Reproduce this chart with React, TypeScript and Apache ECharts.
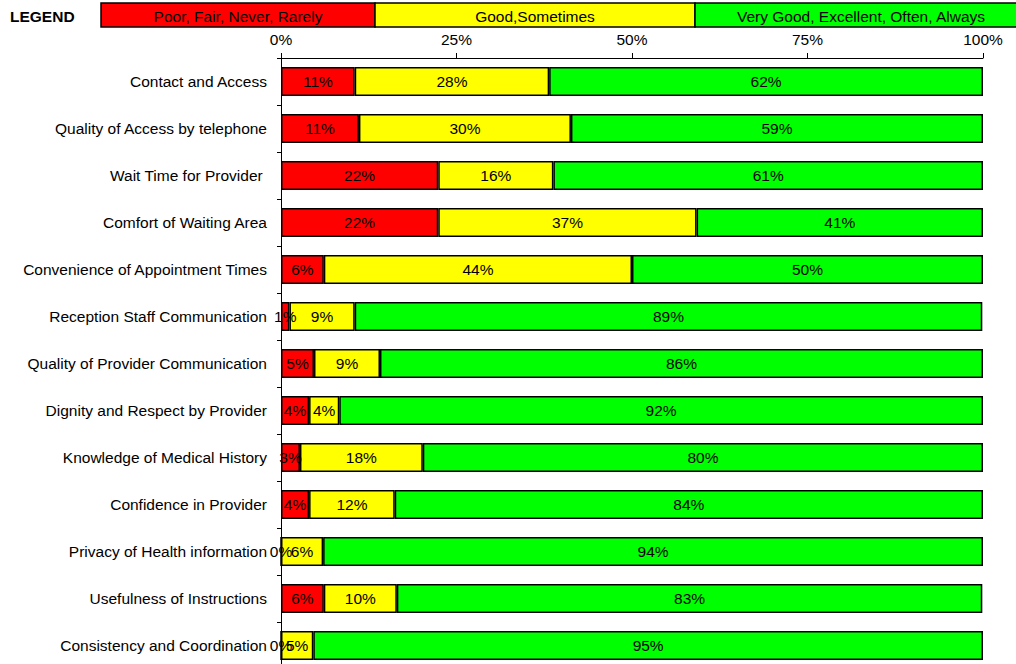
import React, { useEffect, useRef } from "react";
import * as echarts from "echarts";

const categories = [
  "Contact and Access",
  "Quality of Access by telephone",
  "Wait Time for Provider ",
  "Comfort of Waiting Area",
  "Convenience of Appointment Times",
  "Reception Staff Communication",
  "Quality of Provider Communication",
  "Dignity and Respect by Provider",
  "Knowledge of Medical History",
  "Confidence in Provider",
  "Privacy of Health information",
  "Usefulness of Instructions",
  "Consistency and Coordination",
];

const poorValues = [10.5, 11.1, 22.4, 22.4, 6.1, 1.2, 4.7, 4.0, 2.7, 4.0, 0, 6.1, 0];
const goodValues = [27.7, 30.2, 16.4, 36.8, 43.9, 9.3, 9.4, 4.3, 17.5, 12.2, 6.0, 10.4, 4.6];
const greatValues = [61.8, 58.7, 61.2, 40.8, 50.0, 89.4, 85.9, 91.7, 79.8, 83.8, 94.0, 83.4, 95.4];

const legendNames = [
  "Poor, Fair, Never, Rarely",
  "Good,Sometimes",
  "Very Good, Excellent, Often, Always",
];
const colors = ["#FF0000", "#FFFF00", "#00FF00"];
const xTicks = [0, 25, 50, 75, 100];

export default function App() {
  const ref = useRef<HTMLDivElement>(null);

  useEffect(() => {
    document.body.style.margin = "0";
    if (!ref.current) return;
    const chart = echarts.init(ref.current, undefined, { renderer: "svg" });
    const font = "'Liberation Sans', Arial, sans-serif";
    const fs = 15.5;
    const labelCfg = {
      show: true,
      position: "inside" as const,
      color: "#000",
      fontSize: fs,
      fontFamily: font,
      formatter: (p: any) => Math.round(p.value) + "%",
    };
    const seriesData = [poorValues, goodValues, greatValues];
    const legendX = [101, 375, 695, 1027];
    chart.setOption({
      animation: false,
      textStyle: { fontFamily: font },
      grid: { left: 281, right: 33, top: 58, height: 611, containLabel: false },
      xAxis: {
        type: "value",
        position: "top",
        min: xTicks[0],
        max: xTicks[xTicks.length - 1],
        interval: 25,
        axisLine: { show: true, lineStyle: { color: "#000", width: 1 } },
        axisTick: { show: true, length: 5, lineStyle: { color: "#000" } },
        splitLine: { show: false },
        axisLabel: {
          formatter: "{value}%",
          color: "#000",
          fontSize: fs,
          fontFamily: font,
          margin: 11,
        },
      },
      yAxis: {
        type: "category",
        data: categories,
        inverse: true,
        axisLine: { show: true, lineStyle: { color: "#000", width: 1 } },
        axisTick: { show: true, length: 4, lineStyle: { color: "#000" } },
        axisLabel: {
          color: "#000",
          fontSize: fs,
          fontFamily: font,
          margin: 14,
        },
      },
      series: seriesData.map((d, i) => ({
        name: legendNames[i],
        type: "bar",
        stack: "total",
        data: d,
        barWidth: 29,
        itemStyle: { color: colors[i], borderColor: "#000", borderWidth: 1.5 },
        label: labelCfg,
      })),
      graphic: [
        {
          type: "text",
          x: 10,
          y: 16,
          style: {
            text: "LEGEND",
            font: `bold ${fs}px ${font}`,
            fill: "#000",
            verticalAlign: "middle",
          },
        },
        ...legendNames.flatMap((name, i) => [
          {
            type: "rect",
            shape: {
              x: legendX[i],
              y: 3,
              width: legendX[i + 1] - legendX[i],
              height: 24,
            },
            style: { fill: colors[i], stroke: "#000", lineWidth: 1.5 },
          },
          {
            type: "text",
            x: (legendX[i] + legendX[i + 1]) / 2,
            y: 16,
            style: {
              text: name,
              font: `${fs}px ${font}`,
              fill: "#000",
              align: "center",
              verticalAlign: "middle",
            },
            z: 10,
          },
        ]),
      ],
    });
    return () => chart.dispose();
  }, []);

  return (
    <div style={{ width: 1016, height: 664, overflow: "hidden" }}>
      <div ref={ref} style={{ width: 1016, height: 680 }} />
    </div>
  );
}
